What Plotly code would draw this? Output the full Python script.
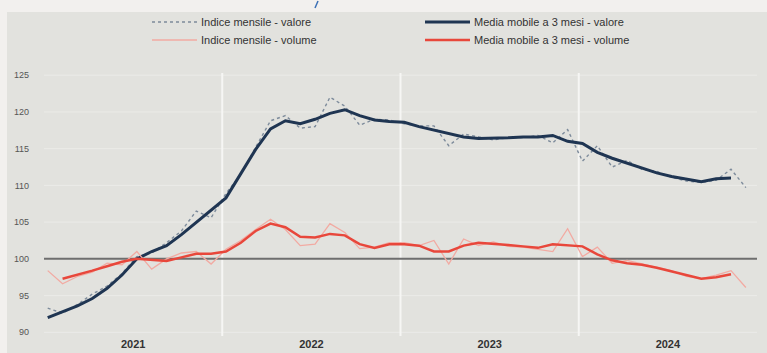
import plotly.graph_objects as go

# Month index 0 = Jan 2021 ... 47 = Dec 2024
months = list(range(48))
year_labels = ["2021", "2022", "2023", "2024"]
year_centers = [5.75, 17.75, 29.75, 41.75]
year_bounds = [11.75, 23.75, 35.75]

valore_mensile = [93.3, 92.6, 93.8, 95.2, 96.3, 98.0, 100.3, 100.8, 102.2, 103.8, 106.5, 105.6,
                  108.9, 111.5, 115.2, 118.8, 119.5, 117.8, 118.0, 122.0, 120.8, 118.2, 119.0, 118.9,
                  118.4, 118.1, 118.1, 115.4, 117.0, 116.6, 116.2, 116.5, 116.5, 116.8, 115.8, 117.6,
                  113.3, 115.4, 112.5, 113.4, 112.2, 111.9, 111.1, 110.6, 110.4, 110.7, 112.2, 109.7]

valore_mm3 = [92.0, 92.8, 93.6, 94.6, 96.0, 97.8, 100.0, 101.0, 101.8, 103.3, 105.0, 106.6,
              108.3, 111.6, 114.9, 117.7, 118.8, 118.4, 119.0, 119.8, 120.3, 119.5, 118.9, 118.7,
              118.6, 118.0, 117.5, 117.0, 116.6, 116.4, 116.4, 116.5, 116.6, 116.6, 116.8, 116.0,
              115.7, 114.5, 113.7, 113.0, 112.3, 111.7, 111.2, 110.8, 110.5, 110.9, 111.0, None]

volume_mensile = [98.4, 96.6, 97.6, 98.2, 99.4, 99.2, 101.0, 98.6, 100.0, 100.8, 101.0, 99.3,
                  101.3, 102.5, 104.0, 105.4, 104.0, 101.8, 102.0, 104.8, 103.6, 101.4, 101.6, 102.2,
                  102.2, 101.8, 102.5, 99.3, 102.7, 101.8, 102.3, 101.7, 101.6, 101.3, 101.0, 104.1,
                  100.3, 101.6, 99.4, 99.8, 99.3, 98.8, 98.4, 97.6, 97.3, 97.8, 98.4, 96.1]

volume_mm3 = [None, 97.3, 97.8, 98.4, 99.0, 99.6, 100.0, 99.8, 99.7, 100.2, 100.7, 100.7,
              101.0, 102.2, 103.8, 104.8, 104.3, 103.0, 102.9, 103.4, 103.2, 102.0, 101.5, 102.0,
              102.0, 101.8, 101.0, 101.0, 101.8, 102.2, 102.1, 101.9, 101.7, 101.5, 102.0, 101.8,
              101.7, 100.6, 99.8, 99.4, 99.2, 98.8, 98.3, 97.8, 97.3, 97.5, 97.9, None]

y_ticks = [90, 95, 100, 105, 110, 115, 120, 125]

series_names = ["Indice mensile - valore", "Media mobile a 3 mesi - valore",
                "Indice mensile - volume", "Media mobile a 3 mesi - volume"]
series_colors = ["#7d8b9b", "#1f3552", "#f2aaa2", "#e8473b"]
series_widths = [1.4, 3, 1.3, 2.5]
series_dash = ["dot", "solid", "solid", "solid"]

# layout geometry (pixels)
W, H = 767, 353
L, R, T, B = 44, 10, 73, 17
PW = W - L - R
PH = H - T - B


def px(x):
    return (x - L) / PW


def py(y):
    return (H - B - y) / PH


fig = go.Figure()
data = [valore_mensile, valore_mm3, volume_mensile, volume_mm3]
for vals, name, col, w, d in zip(data, series_names, series_colors, series_widths, series_dash):
    fig.add_trace(go.Scatter(x=months, y=vals, mode="lines", name=name, showlegend=False,
                             line=dict(color=col, width=w, dash=d)))

shapes = []
# chart box background
shapes.append(dict(type="rect", xref="paper", yref="paper",
                   x0=px(7), x1=px(767), y0=py(353), y1=py(12),
                   fillcolor="#e2e2de", line=dict(width=0), layer="below"))
# faint horizontal gridlines (except 100)
for t in y_ticks:
    if t != 100:
        shapes.append(dict(type="line", xref="paper", yref="y", x0=0, x1=1, y0=t, y1=t,
                           line=dict(color="#ebebe8", width=1), layer="below"))
# year separators
for b in year_bounds:
    shapes.append(dict(type="line", xref="x", yref="paper", x0=b, x1=b, y0=0, y1=1,
                       line=dict(color="#f6f6f4", width=2), layer="below"))
# 100 reference line
shapes.append(dict(type="line", xref="paper", yref="y", x0=0, x1=1, y0=100, y1=100,
                   line=dict(color="#6e6e6e", width=2), layer="below"))
# small blue fragment at top
shapes.append(dict(type="line", xref="paper", yref="paper",
                   x0=px(318), x1=px(315), y0=py(1), y1=py(8),
                   line=dict(color="#3a6fb5", width=1.5)))

# manual legend (2 x 2)
annotations = []
leg_pos = [(152, 22), (425, 22), (152, 40), (425, 40)]
for (lx, ly), name, col, w, d in zip(leg_pos, series_names, series_colors, series_widths, series_dash):
    shapes.append(dict(type="line", xref="paper", yref="paper",
                       x0=px(lx), x1=px(lx + 45), y0=py(ly), y1=py(ly),
                       line=dict(color=col, width=w, dash=d)))
    annotations.append(dict(xref="paper", yref="paper", x=px(lx + 47), y=py(ly),
                            xanchor="left", yanchor="middle", text=name, showarrow=False,
                            font=dict(size=11, color="#333333")))

fig.update_layout(
    width=W, height=H,
    margin=dict(l=L, r=R, t=T, b=B, autoexpand=False),
    paper_bgcolor="#f2f0ee",
    plot_bgcolor="rgba(0,0,0,0)",
    font=dict(family="Liberation Sans, Arial, sans-serif", color="#333333"),
    shapes=shapes,
    annotations=annotations,
    showlegend=False,
)

fig.update_xaxes(range=[-0.25, 47.75], tickvals=year_centers,
                 ticktext=["<b>%s</b>" % t for t in year_labels],
                 showgrid=False, zeroline=False, showline=False, ticks="",
                 automargin=False,
                 tickfont=dict(size=11, color="#333333"),
                 fixedrange=True)
fig.update_yaxes(range=[89.5, 125.3], tickvals=y_ticks, showgrid=False,
                 zeroline=False, showline=False,
                 ticks="", ticklabelstandoff=14, automargin=False,
                 tickfont=dict(size=9, color="#555555"), fixedrange=True)

fig.write_html("out.html", config={"displayModeBar": False},
               post_script="document.body.style.margin='0px';document.body.style.overflow='hidden';")
